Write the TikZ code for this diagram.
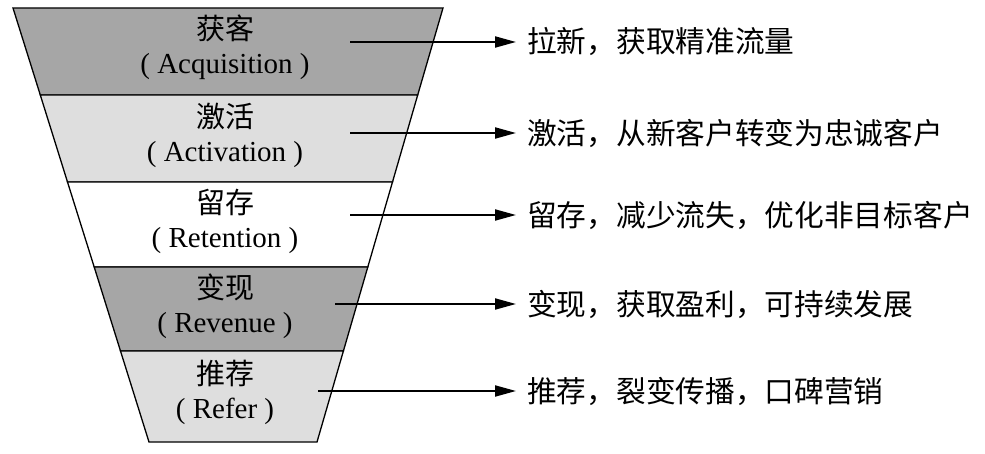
\documentclass[tikz,border=0pt]{standalone}
\usepackage{fontspec}
\setmainfont{Liberation Serif}
\newfontfamily\cjk{Noto Sans CJK SC}
\usetikzlibrary{arrows.meta}
\definecolor{darkband}{HTML}{A6A6A6}
\definecolor{lightband}{HTML}{DEDEDE}
\tikzset{
  band/.style={draw=black, line width=1.3pt, line join=miter},
  lefttext/.style={align=center, font=\fontsize{29}{34}\selectfont, inner sep=0pt},
  righttext/.style={anchor=west, inner xsep=11pt, inner ysep=0pt, font=\fontsize{29.7}{34}\selectfont\cjk},
  pointer/.style={line width=2pt, -{Triangle[length=21pt,width=11pt]}}
}
\begin{document}
\begin{tikzpicture}[x=1pt,y=-1pt]
\useasboundingbox (0,0) rectangle (985,454);
% bands
\filldraw[band, fill=darkband]  (13,8) -- (443,8) -- (417.7,95) -- (40.3,95) -- cycle;
\filldraw[band, fill=lightband] (40.3,95) -- (417.7,95) -- (392.5,182) -- (67.5,182) -- cycle;
\filldraw[band, fill=white]     (67.5,182) -- (392.5,182) -- (367.8,267) -- (94.2,267) -- cycle;
\filldraw[band, fill=darkband]  (94.2,267) -- (367.8,267) -- (343.4,351) -- (120.5,351) -- cycle;
\filldraw[band, fill=lightband] (120.5,351) -- (343.4,351) -- (317,442) -- (149,442) -- cycle;
% left labels
\node[lefttext] (l1) at (225,47) {{\cjk 获客}\\( Acquisition )};
\node[lefttext] (l2) at (225,135) {{\cjk 激活}\\( Activation )};
\node[lefttext] (l3) at (225,221) {{\cjk 留存}\\( Retention )};
\node[lefttext] (l4) at (225,306) {{\cjk 变现}\\( Revenue )};
\node[lefttext] (l5) at (225,392) {{\cjk 推荐}\\( Refer )};
% arrow starts
\coordinate (s1) at (350,42);
\coordinate (s2) at (350,133);
\coordinate (s3) at (350,215);
\coordinate (s4) at (335,304);
\coordinate (s5) at (318,391);
% right texts
\node[righttext] (r1) at (516,42) {拉新，获取精准流量};
\node[righttext] (r2) at (516,133) {激活，从新客户转变为忠诚客户};
\node[righttext] (r3) at (516,215) {留存，减少流失，优化非目标客户};
\node[righttext] (r4) at (516,304) {变现，获取盈利，可持续发展};
\node[righttext] (r5) at (516,391) {推荐，裂变传播，口碑营销};
% arrows
\draw[pointer] (s1) -- (s1 -| r1.west);
\draw[pointer] (s2) -- (s2 -| r2.west);
\draw[pointer] (s3) -- (s3 -| r3.west);
\draw[pointer] (s4) -- (s4 -| r4.west);
\draw[pointer] (s5) -- (s5 -| r5.west);
\end{tikzpicture}
\end{document}
